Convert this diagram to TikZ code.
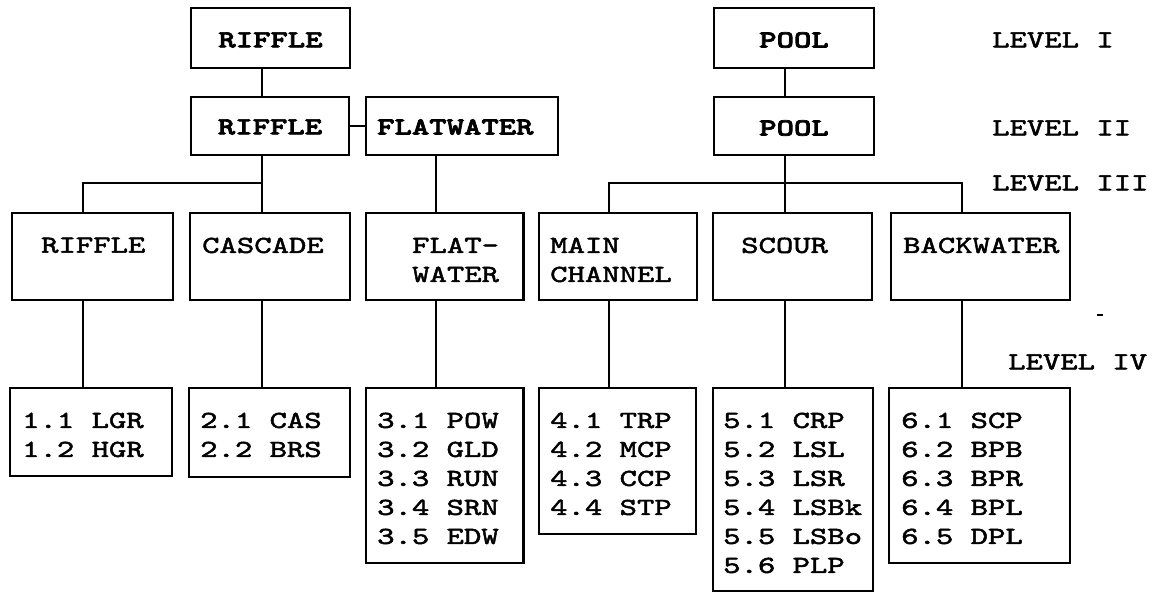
\documentclass[tikz,border=0pt]{standalone}
\usepackage{fontspec}
\newfontfamily\courr{lmmono10-regular.otf}[FakeStretch=1.35,FakeBold=2]
\newfontfamily\courb{lmmonolt10-bold.otf}[FakeStretch=1.35,FakeBold=3]
\begin{document}
\begin{tikzpicture}[x=1pt,y=-1pt,
  box/.style={draw,line width=2.4pt,inner sep=0pt},
  conn/.style={line width=2.2pt},
  txt/.style={inner sep=0pt,anchor=north west,align=left,
    font=\courr\fontsize{24.5}{29}\selectfont},
  btxt/.style={inner sep=0pt,font=\courb\fontsize{24.5}{29}\selectfont},
  lvl/.style={inner sep=0pt,anchor=west,font=\courr\fontsize{24.5}{29}\selectfont}]
\useasboundingbox (0,0) rectangle (1155,592);
% Level I
\node[box,minimum width=159pt,minimum height=60pt] (r1) at (270.5,38) {};
\node[btxt] (r1t) at (270.5,40) {RIFFLE};
\node[box,minimum width=160pt,minimum height=60pt] (p1) at (794,38) {};
\node[btxt] (p1t) at (794,40) {POOL};
% Level II
\node[box,minimum width=158pt,minimum height=58pt] (r2) at (270,126) {};
\node[btxt] (r2t) at (270,127) {RIFFLE};
\node[box,minimum width=192pt,minimum height=58pt] (f2) at (462,126) {};
\node[btxt,anchor=west] (f2t) at (377,127) {FLATWATER};
\node[box,minimum width=160pt,minimum height=58pt] (p2) at (794,126) {};
\node[btxt] (p2t) at (794,128) {POOL};
% Level III
\node[box,minimum width=161pt,minimum height=87pt] (a) at (92.5,256.5) {};
\node[box,minimum width=160pt,minimum height=87pt] (b) at (270,256.5) {};
\node[box,minimum width=157.5pt,minimum height=87pt] (c) at (444.75,256.5) {};
\node[box,minimum width=158pt,minimum height=87pt] (d) at (618,256.5) {};
\node[box,minimum width=159pt,minimum height=87pt] (e) at (792.5,256.5) {};
\node[box,minimum width=179pt,minimum height=87pt] (f) at (980.5,256.5) {};
\node[txt] (at) at (41,237.5) {RIFFLE};
\node[txt] (bt) at (202,237.5) {CASCADE};
\node[txt] (ct) at (412,237.5) {FLAT-\\WATER};
\node[txt] (dt) at (550,237.5) {MAIN\\CHANNEL};
\node[txt] (et) at (741,237.5) {SCOUR};
\node[txt] (ft) at (903,237.5) {BACKWATER};
% Level IV
\node[box,minimum width=162pt,minimum height=88pt] (A) at (91,432) {};
\node[box,minimum width=161pt,minimum height=89pt] (B) at (269.5,432.5) {};
\node[box,minimum width=157.5pt,minimum height=175pt] (C) at (444.75,475.5) {};
\node[box,minimum width=157pt,minimum height=146pt] (D) at (617.5,461) {};
\node[box,minimum width=160pt,minimum height=203pt] (E) at (793,489.5) {};
\node[box,minimum width=181pt,minimum height=175pt] (F) at (979.5,475.5) {};
\node[txt] (At) at (22,412.5) {1.1 LGR\\1.2 HGR};
\node[txt] (Bt) at (200,412.5) {2.1 CAS\\2.2 BRS};
\node[txt] (Ct) at (377,412.5) {3.1 POW\\3.2 GLD\\3.3 RUN\\3.4 SRN\\3.5 EDW};
\node[txt] (Dt) at (550,412.5) {4.1 TRP\\4.2 MCP\\4.3 CCP\\4.4 STP};
\node[txt] (Et) at (723,412.5) {5.1 CRP\\5.2 LSL\\5.3 LSR\\5.4 LSBk\\5.5 LSBo\\5.6 PLP};
\node[txt] (Ft) at (901,412.5) {6.1 SCP\\6.2 BPB\\6.3 BPR\\6.4 BPL\\6.5 DPL};
% level labels
\node[lvl] (l1) at (992,40) {LEVEL I};
\node[lvl] (l2) at (992,128) {LEVEL II};
\node[lvl] (l3) at (992,183) {LEVEL III};
\node[lvl] (l4) at (1008,362) {LEVEL IV};
% connectors
\coordinate (xR) at (262,0);
\coordinate (xF) at (436,0);
\coordinate (xP) at (785,0);
\coordinate (hL) at (83,183);
\coordinate (hP1) at (609,183);
\coordinate (hP2) at (962,183);
\draw[conn] (r1.south -| xR) -- (r2.north -| xR);
\draw[conn] (r2.south -| xR) -- (b.north -| xR);
\draw[conn] (hL -| xR) -- (hL) -- (hL |- a.north);
\draw[conn] (r2.east) -- (f2.west);
\draw[conn] (f2.south -| xF) -- (c.north -| xF);
\draw[conn] (p1.south -| xP) -- (p2.north -| xP);
\draw[conn] (p2.south -| xP) -- (e.north -| xP);
\draw[conn] (hP1 |- d.north) -- (hP1) -- (hP2) -- (hP2 |- f.north);
\draw[conn] (a.south -| hL) -- (A.north -| hL);
\draw[conn] (b.south -| xR) -- (B.north -| xR);
\draw[conn] (c.south -| xF) -- (C.north -| xF);
\draw[conn] (d.south -| hP1) -- (D.north -| hP1);
\draw[conn] (e.south -| xP) -- (E.north -| xP);
\draw[conn] (f.south -| hP2) -- (F.north -| hP2);
% stray mark
\coordinate (m1) at (1097,315);
\coordinate (m2) at (1103,315);
\draw[line width=2pt] (m1) -- (m2);
\end{tikzpicture}
\end{document}
